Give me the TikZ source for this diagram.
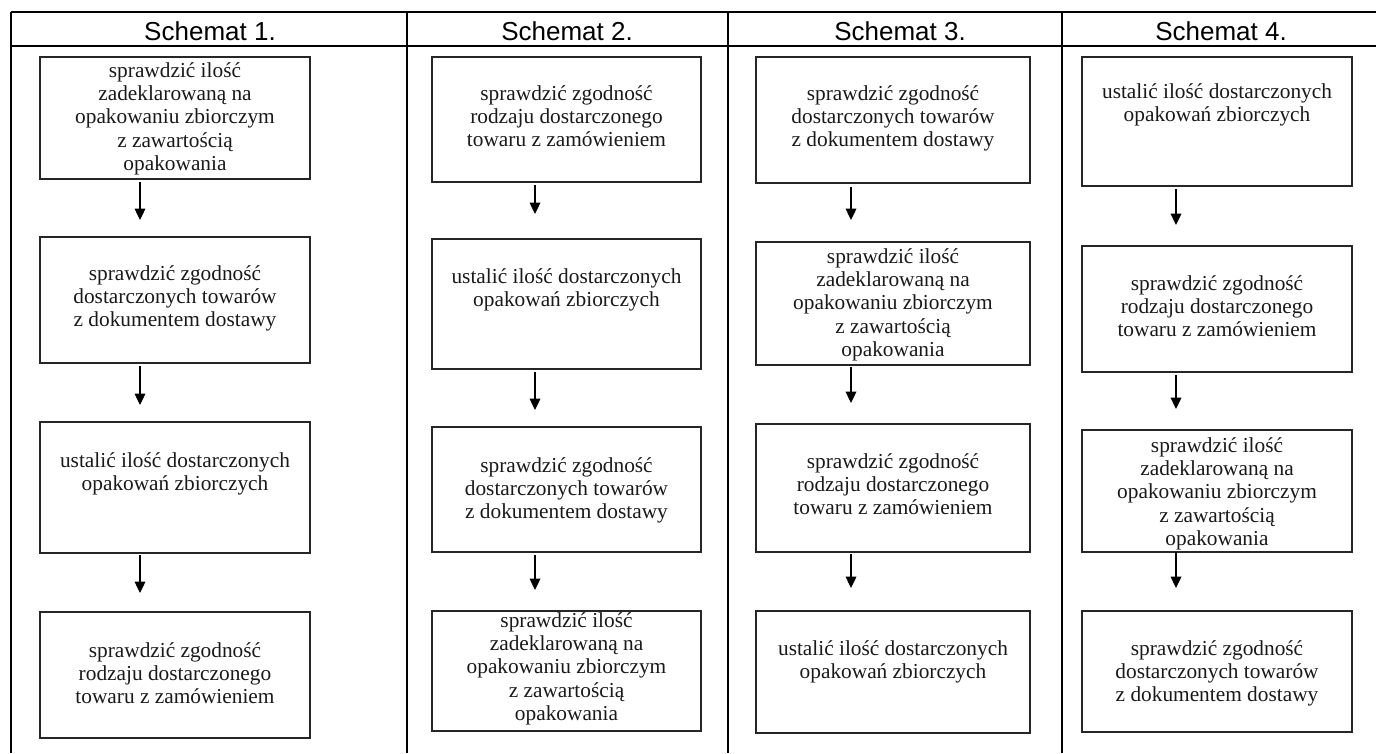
\documentclass[tikz,border=0pt]{standalone}
\usepackage{fontspec}
\usetikzlibrary{arrows.meta}
\newfontfamily\boxfont{Liberation Serif}
\newfontfamily\headfont{Liberation Sans}
\newcommand\txtA{sprawdzić ilość\\zadeklarowaną na\\opakowaniu zbiorczym\\z zawartością\\opakowania}
\newcommand\txtB{sprawdzić zgodność\\dostarczonych towarów\\z dokumentem dostawy}
\newcommand\txtC{ustalić ilość dostarczonych\\opakowań zbiorczych}
\newcommand\txtE{sprawdzić zgodność\\rodzaju dostarczonego\\towaru z zamówieniem}
\newcommand\mkbox[7]{%
  \pgfmathsetmacro\bw{(#4-#2)*0.75}%
  \pgfmathsetmacro\bh{(#5-#3)*0.75}%
  \pgfmathsetmacro\bd{#6*0.75}%
  \node[flowbox] (#1) at ({(#2+#4)/2},{(#3+#5)/2})
    {\parbox[c][\bh pt][t]{\bw pt}{\centering\rule{0pt}{\bd pt}#7}};%
}
\tikzset{
  flowbox/.style={draw=black!85, line width=0.8pt, inner sep=0pt, outer sep=0pt,
    font=\boxfont\fontsize{16}{17.6}\selectfont, text=black!90},
  head/.style={font=\headfont\fontsize{19.5}{22}\selectfont, anchor=base, inner sep=0pt},
  grid/.style={line width=1.5pt, black},
  arr/.style={line width=0.9pt, -{Triangle[width=8pt,length=8.5pt]}}
}
\begin{document}
\begin{tikzpicture}[x=0.75pt, y=-0.75pt]
\useasboundingbox (0,0) rectangle (1376,753);
% table
\coordinate (tl) at (11,12);
\coordinate (tr) at (1376,12);
\coordinate (hl) at (11,46);
\coordinate (hr) at (1376,46);
\coordinate (bl) at (11,753);
\coordinate (s1t) at (407,12);  \coordinate (s1b) at (407,753);
\coordinate (s2t) at (728,12);  \coordinate (s2b) at (728,753);
\coordinate (s3t) at (1062,12); \coordinate (s3b) at (1062,753);
\draw[grid] (tl) -- (tr);
\draw[grid] (hl) -- (hr);
\draw[grid] (tl) -- (bl);
\draw[grid] (s1t) -- (s1b);
\draw[grid] (s2t) -- (s2b);
\draw[grid] (s3t) -- (s3b);
% headers
\node[head] (h1) at (210,40) {Schemat 1.};
\node[head] (h2) at (567,40) {Schemat 2.};
\node[head] (h3) at (900,40) {Schemat 3.};
\node[head] (h4) at (1221,40) {Schemat 4.};
% column 1
\mkbox{a1}{40}{57}{310}{179}{20}{\txtA}
\mkbox{a2}{40}{237}{310}{363}{43}{\txtB}
\mkbox{a3}{40}{422}{310}{553}{45}{\txtC}
\mkbox{a4}{40}{612}{310}{738}{45}{\txtE}
\coordinate (ta1) at (140,220);
\coordinate (ta2) at (140,405);
\coordinate (ta3) at (140,593);
\draw[arr] ([yshift=-2.2pt]a1.south -| ta1) -- (ta1);
\draw[arr] ([yshift=-2.2pt]a2.south -| ta2) -- (ta2);
\draw[arr] ([yshift=-1.5pt]a3.south -| ta3) -- (ta3);
% column 2
\mkbox{b1}{432}{57}{701}{182}{43}{\txtE}
\mkbox{b2}{432}{239}{701}{369}{44}{\txtC}
\mkbox{b3}{432}{427}{701}{552}{45}{\txtB}
\mkbox{b4}{432}{611}{701}{731}{16}{\txtA}
\coordinate (tb1) at (535,214);
\coordinate (tb2) at (535,410);
\coordinate (tb3) at (535,590);
\draw[arr] ([yshift=-2.2pt]b1.south -| tb1) -- (tb1);
\draw[arr] ([yshift=-2.2pt]b2.south -| tb2) -- (tb2);
\draw[arr] ([yshift=-2.2pt]b3.south -| tb3) -- (tb3);
% column 3
\mkbox{c1}{756}{57}{1030}{183}{43}{\txtB}
\mkbox{c2}{756}{242}{1030}{365}{21}{\txtA}
\mkbox{c3}{756}{424}{1030}{552}{44}{\txtE}
\mkbox{c4}{756}{611}{1030}{733}{44}{\txtC}
\coordinate (tc1) at (851,220);
\coordinate (tc2) at (851,403);
\coordinate (tc3) at (851,588);
\draw[arr] ([yshift=-3pt]c1.south -| tc1) -- (tc1);
\draw[arr] ([yshift=-1.5pt]c2.south -| tc2) -- (tc2);
\draw[arr] ([yshift=-1.5pt]c3.south -| tc3) -- (tc3);
% column 4
\mkbox{d1}{1082}{57}{1352}{186}{41}{\txtC}
\mkbox{d2}{1082}{246}{1352}{372}{44}{\txtE}
\mkbox{d3}{1082}{430}{1352}{552}{22}{\txtA}
\mkbox{d4}{1082}{611}{1352}{732}{44}{\txtB}
\coordinate (td1) at (1176,225);
\coordinate (td2) at (1176,409);
\coordinate (td3) at (1176,588);
\draw[arr] ([yshift=-2.2pt]d1.south -| td1) -- (td1);
\draw[arr] ([yshift=-2.2pt]d2.south -| td2) -- (td2);
\draw[arr] ([yshift=0pt]d3.south -| td3) -- (td3);
\end{tikzpicture}
\end{document}
